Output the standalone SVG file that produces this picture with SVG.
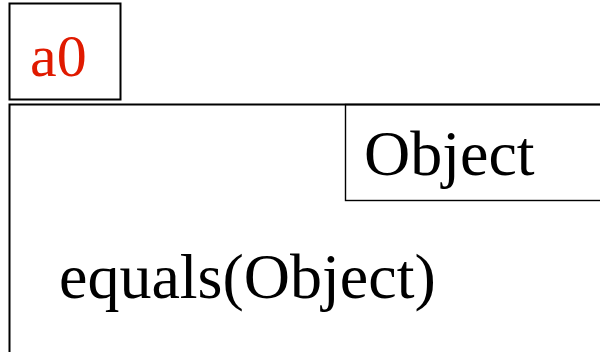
<svg xmlns="http://www.w3.org/2000/svg" width="600" height="352" viewBox="0 0 600 352">
<style>
.box{fill:none;stroke:#000;stroke-width:2}
.thin{fill:none;stroke:#000;stroke-width:1.4}
.t{font-family:"Liberation Serif","Times New Roman",serif;font-size:64px;fill:#000}
.red{fill:#e01a00;font-size:60px}
</style>
<rect width="600" height="352" fill="#fff"/>
<g id="a0">
<rect class="box" x="9.5" y="3.5" width="111" height="96"/>
<text class="t red" x="30" y="76">a0</text>
</g>
<g id="instance">
<rect class="box" x="9.5" y="104.5" width="620" height="300"/>
<text class="t" x="59" y="298">equals(Object)</text>
</g>
<g id="Object">
<rect class="thin" x="345.5" y="104.5" width="300" height="96"/>
<text class="t" x="364" y="175">Object</text>
</g>
<g id="connectors"/>
</svg>
